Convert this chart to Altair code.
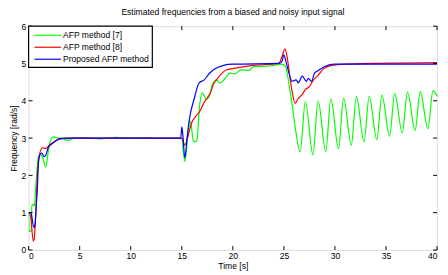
import altair as alt
import pandas as pd

series_names = ["AFP method [7]", "AFP method [8]", "Proposed AFP method"]
series_colors = ["#00ff00", "#ff0000", "#0000ff"]

green_t = [0, 0.05, 0.25, 0.32, 0.45, 0.55, 0.7, 0.96, 1.19, 1.4, 1.67, 1.93, 2.15, 2.47, 2.8, 3.2,
           3.6, 3.9, 4.4, 5.5, 7.0, 8.5, 10.0, 11.5, 13.0, 14.5, 15.0, 15.1, 15.3, 15.6, 15.8, 15.95,
           16.1, 16.3, 16.5, 16.7, 17.0, 17.4, 17.7, 18.0, 18.4, 18.7, 19.0, 19.4, 19.7, 20.2, 20.8,
           21.5, 22.1, 23.1, 24.0, 24.8, 25.15, 25.5, 25.8, 26.1, 26.6, 27.1, 27.85, 28.35, 29.1, 29.6,
           30.35, 30.85, 31.6, 32.1, 32.85, 33.35, 34.1, 34.6, 35.35, 35.85, 36.6, 37.1, 37.85, 38.35,
           39.1, 39.6, 40.0]
green_f = [1.0, 0.5, 0.5, 1.19, 1.23, 1.17, 1.7, 2.5, 2.55, 2.46, 2.22, 2.64, 2.95, 3.03, 3.0, 3.0,
           2.95, 2.94, 3.0, 3.01, 2.98, 3.02, 3.0, 3.01, 2.99, 3.0, 3.0, 2.77, 2.37, 3.08, 3.47, 3.3,
           2.94, 2.9, 2.95, 3.73, 4.21, 4.04, 4.13, 4.44, 4.56, 4.48, 4.52, 4.66, 4.74, 4.72, 4.83,
           4.81, 4.92, 4.92, 4.95, 4.98, 4.92, 4.44, 3.91, 3.30, 2.64, 3.98, 2.55, 4.0, 2.64, 4.05,
           2.71, 4.07, 2.81, 4.11, 2.90, 4.12, 2.96, 4.15, 3.05, 4.19, 3.14, 4.23, 3.21, 4.25,
           3.25, 4.27, 4.12]

red_t = [0, 0.2, 0.45, 0.55, 0.7, 0.87, 1.03, 1.35, 1.67, 1.99, 2.31, 2.95, 3.9, 15.0, 15.1, 15.3,
         15.6, 16.0, 16.3, 16.8, 17.1, 17.5, 17.8, 18.1, 18.4, 18.8, 19.4, 20.4, 22.0, 23.9, 24.5,
         24.8, 25.1, 25.3, 25.6, 25.8, 26.1, 26.4, 26.8, 27.1, 27.5, 27.8, 28.4, 28.9, 29.7, 31.0, 40.0]
red_f = [1.0, 0.9, 0.24, 0.3, 1.0, 2.06, 2.5, 2.74, 2.72, 2.8, 2.87, 2.96, 3.0, 3.0, 2.94, 2.81,
         3.05, 3.43, 3.56, 3.73, 3.91, 4.08, 4.21, 4.44, 4.56, 4.70, 4.83, 4.88, 4.95, 4.98, 5.0,
         5.17, 5.39, 5.2, 4.61, 4.26, 3.93, 4.06, 4.17, 4.30, 4.38, 4.52, 4.70, 4.86, 4.95, 4.98, 5.02]

blue_t = [0, 0.22, 0.45, 0.55, 0.64, 0.77, 0.87, 0.96, 1.09, 1.29, 1.51, 1.7, 1.93, 2.31, 2.7, 2.95,
          3.6, 14.9, 15.0, 15.1, 15.3, 15.5, 15.7, 16.2, 16.7, 17.2, 17.6, 18.1, 19.1, 20.0, 24.5,
          24.8, 25.0, 25.2, 25.5, 25.8, 26.2, 26.4, 26.8, 27.2, 27.4, 27.7, 28.0, 28.3, 29.0, 30.0, 40.0]
blue_f = [1.0, 1.0, 0.66, 0.6, 0.7, 1.28, 1.72, 2.33, 2.55, 2.6, 2.5, 2.55, 2.75, 2.85, 2.93, 2.98,
          3.0, 3.0, 3.3, 3.1, 2.46, 2.95, 3.43, 4.04, 4.48, 4.56, 4.70, 4.83, 4.95, 4.98, 5.0,
          5.05, 5.23, 5.05, 4.74, 4.52, 4.56, 4.48, 4.66, 4.52, 4.6, 4.52, 4.74, 4.80, 4.92, 4.98, 4.98]

x_ticks = [0, 5, 10, 15, 20, 25, 30, 35, 40]
y_ticks = [0, 1, 2, 3, 4, 5, 6]

W, H = 416, 228
FONT = "Liberation Sans"
FS = 8.7

xs = alt.Scale(domain=[0, 40], nice=False, zero=False)
ys = alt.Scale(domain=[0, 6], nice=False, zero=False)

x_axis = alt.Axis(values=x_ticks, title="Time [s]", grid=False, domain=False, ticks=False,
                  labelPadding=2, titlePadding=1, labelFontSize=FS, titleFontSize=FS,
                  labelFont=FONT, titleFont=FONT, labelColor="black", titleColor="black",
                  titleFontWeight="normal")
y_axis = alt.Axis(values=y_ticks, title="Frequency [rad/s]", grid=False, domain=False, ticks=False,
                  labelPadding=3, titlePadding=3, labelFontSize=FS, titleFontSize=FS,
                  labelFont=FONT, titleFont=FONT, labelColor="black", titleColor="black",
                  titleFontWeight="normal")

layers = []
all_series = [(green_t, green_f), (red_t, red_f), (blue_t, blue_f)]
for i, (t, f) in enumerate(all_series):
    d = pd.DataFrame({"t": t, "f": f})
    layers.append(
        alt.Chart(d).mark_line(color=series_colors[i], strokeWidth=1.2, clip=True,
                               interpolate="monotone").encode(
            x=alt.X("t:Q", scale=xs, axis=x_axis),
            y=alt.Y("f:Q", scale=ys, axis=y_axis))
    )

xt = pd.DataFrame({"t": x_ticks})
yt = pd.DataFrame({"f": y_ticks})
TL = 4
tick_layers = [
    alt.Chart(xt).mark_rule(color="black", strokeWidth=1).encode(
        x=alt.X("t:Q", scale=xs, axis=x_axis), y=alt.value(H), y2=alt.value(H - TL)),
    alt.Chart(xt).mark_rule(color="black", strokeWidth=1).encode(
        x=alt.X("t:Q", scale=xs, axis=x_axis), y=alt.value(0), y2=alt.value(TL)),
    alt.Chart(yt).mark_rule(color="black", strokeWidth=1).encode(
        y=alt.Y("f:Q", scale=ys, axis=y_axis), x=alt.value(0), x2=alt.value(TL)),
    alt.Chart(yt).mark_rule(color="black", strokeWidth=1).encode(
        y=alt.Y("f:Q", scale=ys, axis=y_axis), x=alt.value(W - TL), x2=alt.value(W)),
]

one = pd.DataFrame({"a": [0]})
legend_layers = [
    alt.Chart(one).mark_rect(fill="white", stroke="black", strokeWidth=1.2).encode(
        x=alt.value(0), x2=alt.value(126), y=alt.value(0), y2=alt.value(42))
]
for i, name in enumerate(series_names):
    yy = 9.3 + 12.2 * i
    legend_layers.append(
        alt.Chart(one).mark_rule(color=series_colors[i], strokeWidth=1.2).encode(
            x=alt.value(6), x2=alt.value(33), y=alt.value(yy), y2=alt.value(yy)))
    legend_layers.append(
        alt.Chart(one).mark_text(text=name, align="left", baseline="middle", font=FONT,
                                 fontSize=FS, color="black").encode(
            x=alt.value(35), y=alt.value(yy)))

chart = alt.layer(*layers, *tick_layers, *legend_layers).properties(
    width=W, height=H,
    title=alt.TitleParams("Estimated frequencies from a biased and noisy input signal",
                          font=FONT, fontSize=FS, fontWeight="normal", color="black",
                          offset=6, anchor="middle"),
    autosize=alt.AutoSizeParams(type="none"),
    padding={"left": 21, "top": 16, "right": 3, "bottom": 23},
).configure_view(stroke="black", strokeWidth=1.3).configure(background="white")

chart.save("out.html", embed_options={"renderer": "svg", "actions": False})
